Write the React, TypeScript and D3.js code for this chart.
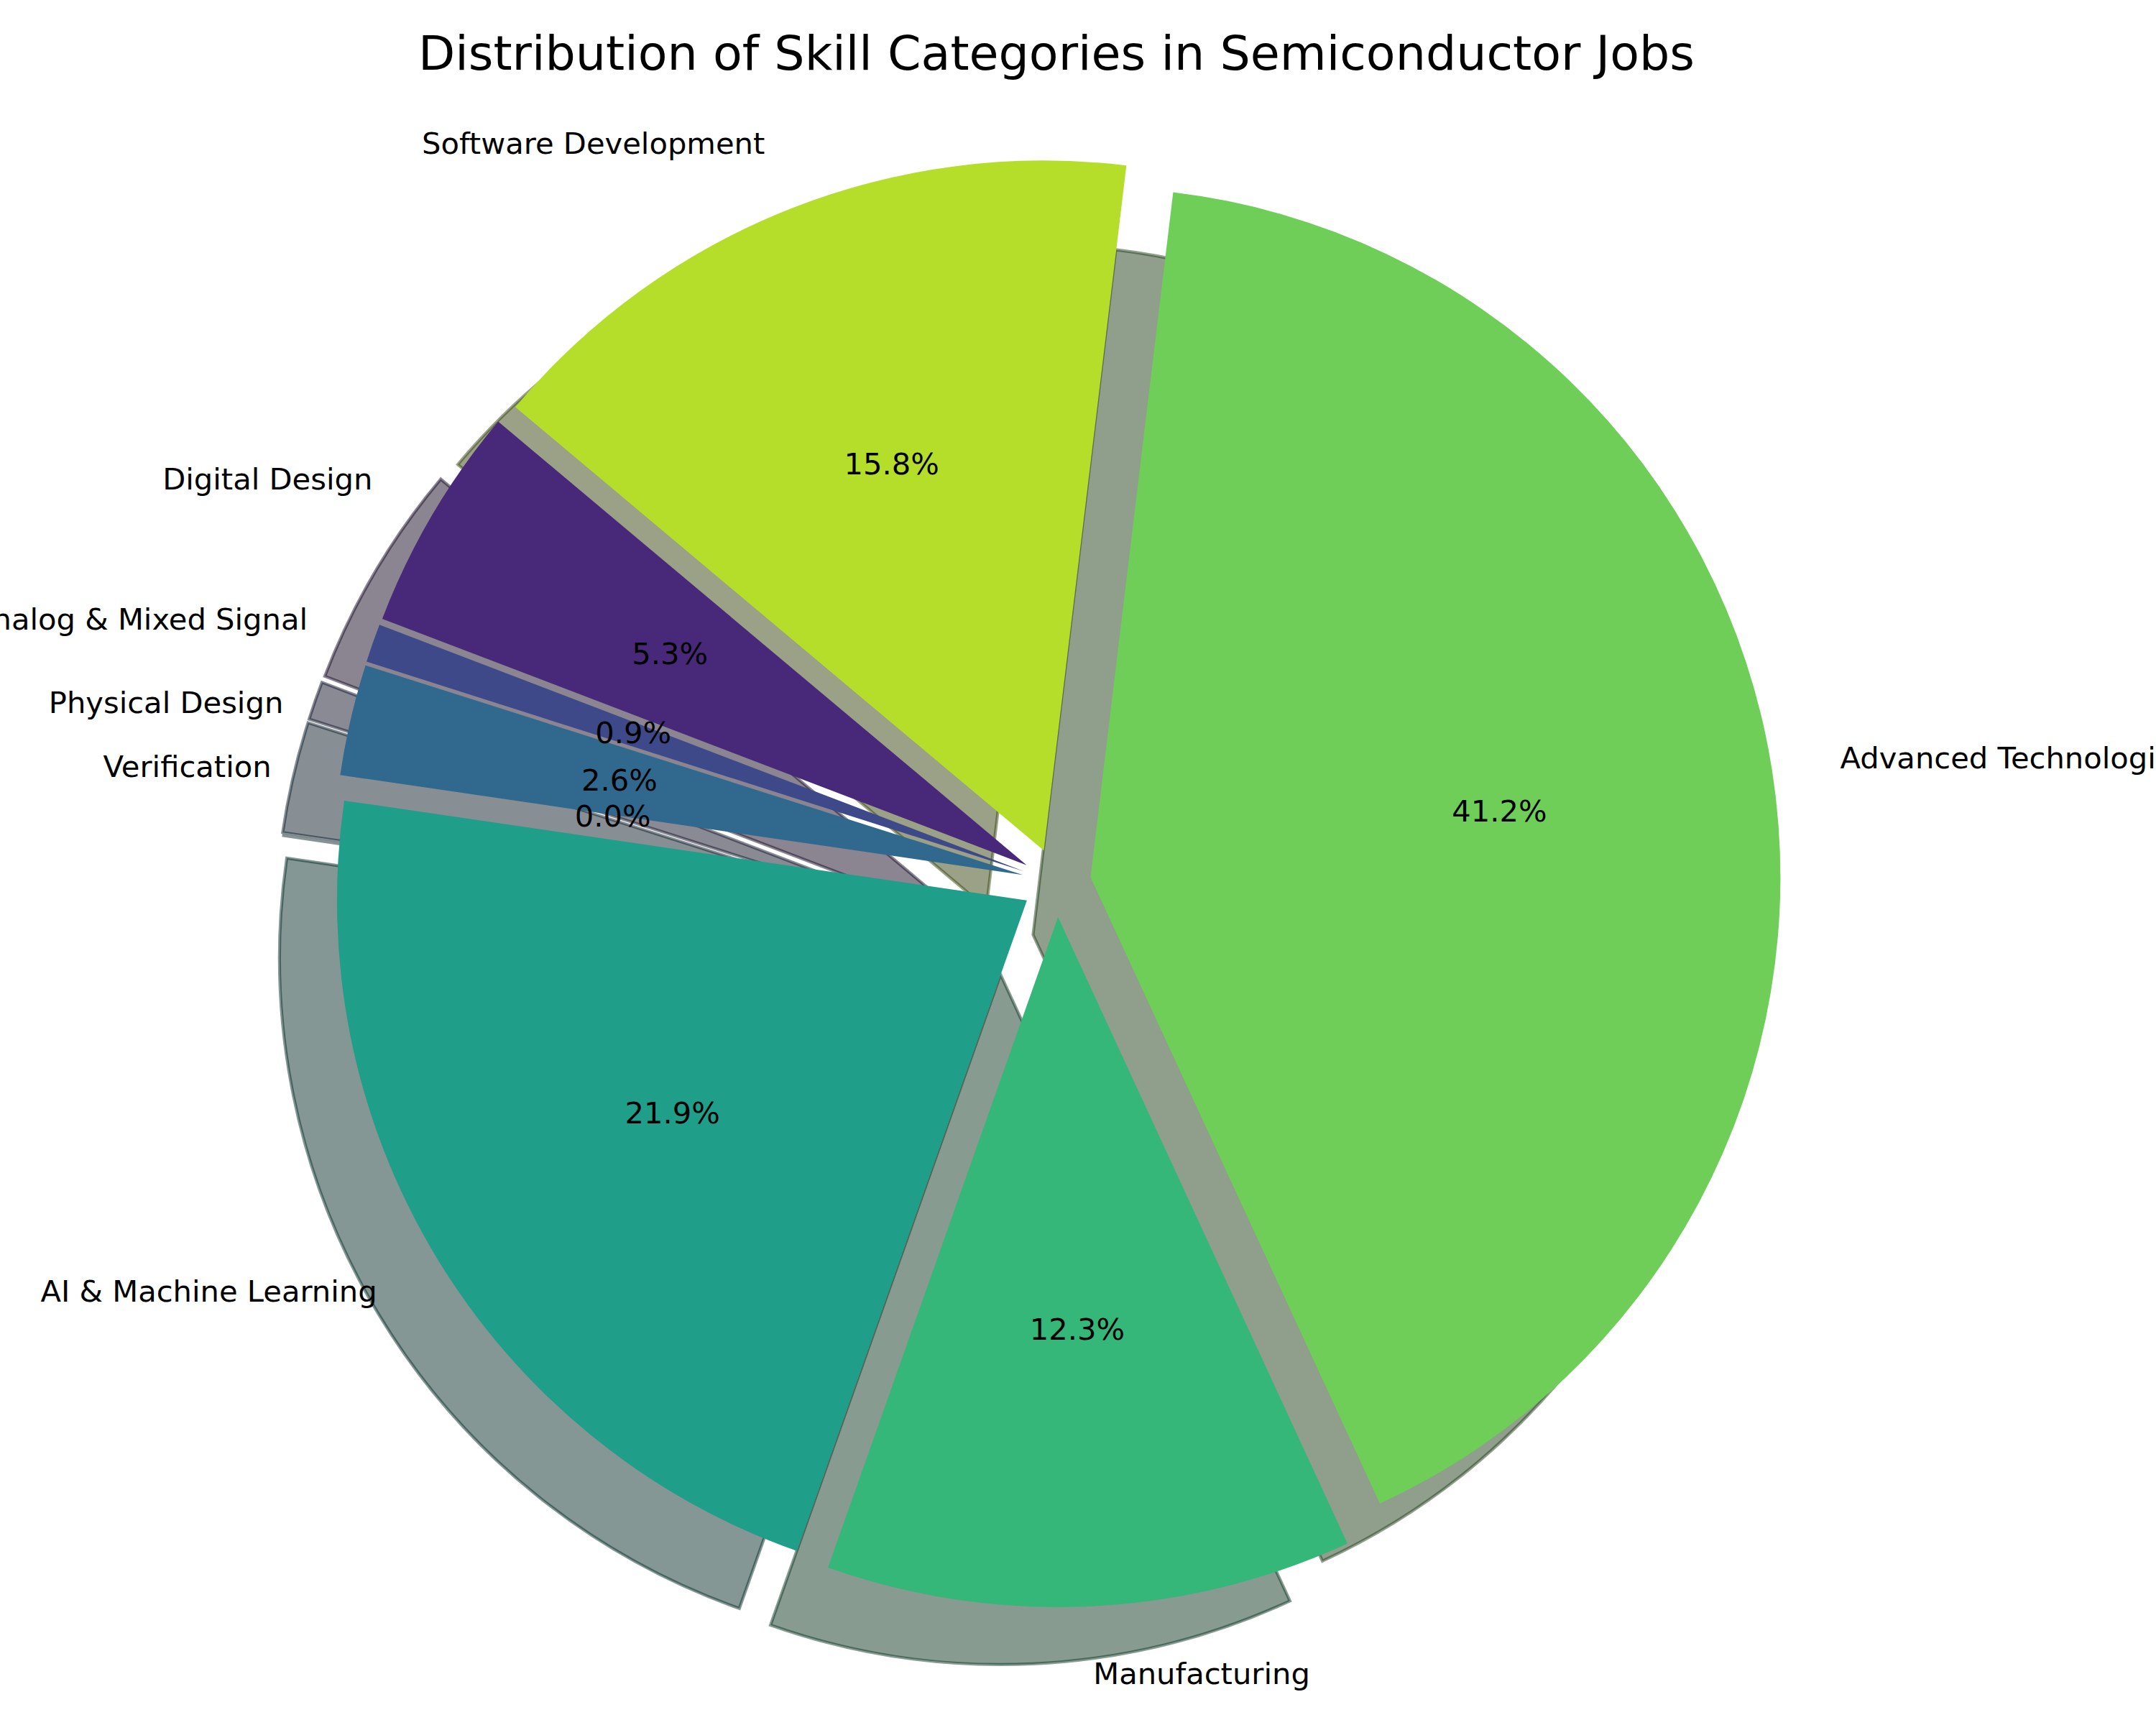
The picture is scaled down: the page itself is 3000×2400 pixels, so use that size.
import React, { useRef, useEffect } from 'react';
import * as d3 from 'd3';

// skill categories, listed counter-clockwise starting at the start angle
const categories = [
    'Digital Design',
    'Analog & Mixed Signal',
    'Physical Design',
    'Verification',
    'AI & Machine Learning',
    'Manufacturing',
    'Advanced Technologies',
    'Software Development',
];
const shares = [5.3, 0.9, 2.6, 0.0, 21.9, 12.3, 41.2, 15.8];

const title = 'Distribution of Skill Categories in Semiconductor Jobs';

const WIDTH = 3000;
const HEIGHT = 2400;

const App: React.FC = () => {
    const svgRef = useRef<SVGSVGElement | null>(null);

    useEffect(() => {
        const svg = d3.select(svgRef.current);
        svg.selectAll('*').remove();

        const cx = 1470;
        const cy = 1228;
        const radius = 960;
        const startDeg = 140; // matplotlib style: ccw from 3 o'clock
        const explode = 0.05;
        const shadowShift = 0.0833 * radius;

        const toRad = (deg: number) => (deg * Math.PI) / 180;

        const pie = d3
            .pie<number>()
            .sort(null)
            .value(d => d)
            .startAngle(toRad(90 - startDeg))
            .endAngle(toRad(90 - startDeg - 360));

        const arcs = pie(shares);

        const arc = d3
            .arc<d3.PieArcDatum<number>>()
            .innerRadius(0)
            .outerRadius(radius);

        const color = (i: number) => d3.interpolateViridis((i + 1) / (categories.length + 1));
        const shade = (c: string) => {
            const rgb = d3.rgb(c);
            return d3.rgb(rgb.r * 0.3, rgb.g * 0.3, rgb.b * 0.3).formatHex();
        };

        const offsets = arcs.map(a => {
            const mid = (a.startAngle + a.endAngle) / 2;
            return {
                mid,
                dx: Math.sin(mid),
                dy: -Math.cos(mid),
            };
        });

        const g = svg.append('g').attr('transform', `translate(${cx},${cy})`);

        // shadows go underneath every wedge
        g.append('g')
            .selectAll('path')
            .data(arcs)
            .enter()
            .append('path')
            .attr('d', arc)
            .attr('transform', (d, i) =>
                `translate(${offsets[i].dx * explode * radius - shadowShift},${offsets[i].dy * explode * radius + shadowShift})`)
            .attr('fill', (d, i) => shade(color(i)))
            .attr('fill-opacity', 0.5)
            .attr('stroke', (d, i) => shade(color(i)))
            .attr('stroke-opacity', 0.5)
            .attr('stroke-width', 4.17)
            .attr('stroke-linejoin', 'miter');

        g.append('g')
            .selectAll('path')
            .data(arcs)
            .enter()
            .append('path')
            .attr('d', arc)
            .attr('transform', (d, i) =>
                `translate(${offsets[i].dx * explode * radius},${offsets[i].dy * explode * radius})`)
            .attr('fill', (d, i) => color(i));

        const fontSize = 41.67;

        // category labels
        g.append('g')
            .selectAll('text')
            .data(arcs)
            .enter()
            .append('text')
            .attr('x', (d, i) => offsets[i].dx * (explode + 1.1) * radius)
            .attr('y', (d, i) => offsets[i].dy * (explode + 1.1) * radius)
            .attr('dy', '0.3em')
            .attr('text-anchor', (d, i) => (offsets[i].dx > 0 ? 'start' : 'end'))
            .style('font-family', 'DejaVu Sans')
            .style('font-size', `${fontSize}px`)
            .attr('fill', '#000')
            .text((d, i) => categories[i]);

        // percentages
        const fmt = d3.format('.1f');
        g.append('g')
            .selectAll('text')
            .data(arcs)
            .enter()
            .append('text')
            .attr('x', (d, i) => offsets[i].dx * (explode + 0.6) * radius)
            .attr('y', (d, i) => offsets[i].dy * (explode + 0.6) * radius)
            .attr('dy', '0.3em')
            .attr('text-anchor', 'middle')
            .style('font-family', 'DejaVu Sans')
            .style('font-size', `${fontSize}px`)
            .attr('fill', '#000')
            .text(d => `${fmt(d.data)}%`);

        // title
        svg.append('text')
            .attr('x', cx)
            .attr('y', 97)
            .attr('text-anchor', 'middle')
            .style('font-family', 'DejaVu Sans')
            .style('font-size', '66.67px')
            .attr('fill', '#000')
            .text(title);
    }, []);

    return (
        <svg
            ref={svgRef}
            width={WIDTH}
            height={HEIGHT}
            style={{ position: 'absolute', left: 0, top: 0, background: '#fff' }}
        />
    );
};

export default App;
